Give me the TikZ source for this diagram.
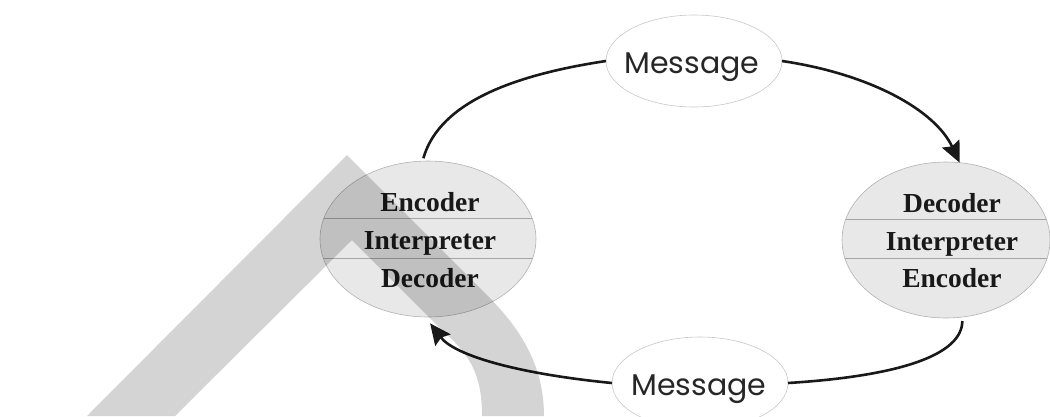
\documentclass[tikz,border=0pt]{standalone}
\usepackage{fontspec}
\setmainfont{Liberation Serif}
\newfontfamily\msgfont{Poppins}
\usetikzlibrary{shapes.geometric,arrows.meta}
\definecolor{ellfill}{RGB}{232,232,232}
\definecolor{ellline}{RGB}{178,178,178}
\definecolor{msgline}{RGB}{200,200,200}
\definecolor{divline}{RGB}{165,165,165}
\tikzset{
  bigell/.style={ellipse, fill=ellfill, draw=ellline, line width=0.6pt, inner sep=0pt, outer sep=0pt, minimum height=156pt},
  msgell/.style={ellipse, fill=white, draw=msgline, line width=0.6pt, inner sep=0pt, outer sep=0pt, minimum width=176pt, minimum height=92pt},
  roletext/.style={anchor=base, font=\fontsize{27.5}{30}\selectfont\bfseries, text=black!90},
  msgtext/.style={anchor=base, font=\msgfont\fontsize{30}{33}\selectfont, text=black!85},
  divider/.style={draw=divline, line width=0.6pt},
  conn/.style={line width=2.6pt, black!90},
  tip/.style={-{Stealth[length=21pt,width=19pt,inset=3pt]}},
  band/.style={fill=black, fill opacity=0.17}
}
\begin{document}
\begin{tikzpicture}[x=1pt,y=-1pt]
\useasboundingbox (0,0) rectangle (1050,416);
% ellipses
\node[bigell, minimum width=216pt] (L) at (428,239) {};
\node[bigell, minimum width=208pt] (R) at (946,240) {};
\node[msgell] (M1) at (694,61) {};
\node[msgell] (M2) at (700,383) {};
% dividers
\begin{scope}
  \clip (428pt,-239pt) ellipse [x radius=108pt, y radius=78pt];
  \draw[divider] (310,218) -- (545,218);
  \draw[divider] (310,258) -- (545,258);
\end{scope}
\begin{scope}
  \clip (946pt,-240pt) ellipse [x radius=104pt, y radius=78pt];
  \draw[divider] (835,219) -- (1055,219);
  \draw[divider] (835,258) -- (1055,258);
\end{scope}
% texts
\node[roletext] (l1) at (430,211) {Encoder};
\node[roletext] (l2) at (430,249) {Interpreter};
\node[roletext] (l3) at (430,287) {Decoder};
\node[roletext] (r1) at (952,212) {Decoder};
\node[roletext] (r2) at (952,250) {Interpreter};
\node[roletext] (r3) at (952,287) {Encoder};
\node[msgtext] (t1) at (692,73) {Message};
\node[msgtext] (t2) at (699,395) {Message};
% connectors
\draw[conn, shorten <=3pt] (L.94) .. controls (440,100) and (520,74) .. (M1.west);
\draw[conn, tip] (M1.east) .. controls (870,74) and (935,110) .. (R.80);
\draw[conn, shorten <=4pt] (R.-78) .. controls (962,355) and (900,376) .. (M2.east);
\draw[conn, tip, shorten >=8pt] (M2.west) .. controls (520,374) and (455,356) .. (L.-92);
% watermark band
\path[band] (87,416) -- (347,155) -- (485,293) .. controls (515,323) and (544,360) .. (544,416)
  -- (482,416) .. controls (482,375) and (470,355) .. (445,333) -- (352,240) -- (175,416) -- cycle;
\end{tikzpicture}
\end{document}
